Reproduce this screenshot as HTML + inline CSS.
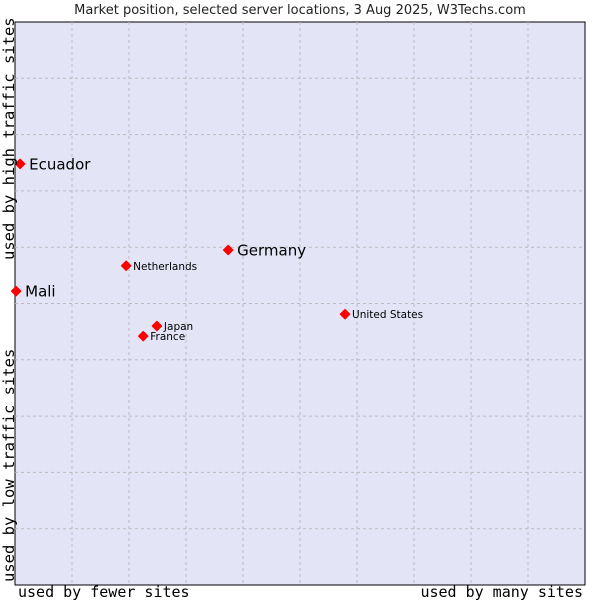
<!DOCTYPE html>
<html><head><meta charset="utf-8"><style>
body{margin:0;background:#fff;width:600px;height:600px;overflow:hidden}
svg{display:block}
</style></head><body>
<svg id="chart" width="600" height="600">
<text x="300" y="14" text-anchor="middle" font-family="DejaVu Sans, sans-serif" font-size="13" fill="#222">Market position, selected server locations, 3 Aug 2025, W3Techs.com</text>
<rect x="15" y="22" width="570" height="563" fill="#e3e5f7" stroke="#000" stroke-width="1"/>
<g id="grid"></g>
<g id="marks"></g>
<text x="18" y="597" font-family="DejaVu Sans Mono, monospace" font-size="15" fill="#000">used by fewer sites</text>
<text x="583" y="597" text-anchor="end" font-family="DejaVu Sans Mono, monospace" font-size="15" fill="#000">used by many sites</text>
<text transform="translate(14,260) rotate(-90)" font-family="DejaVu Sans Mono, monospace" font-size="15.5" fill="#000">used by high traffic sites</text>
<text transform="translate(14,582) rotate(-90)" font-family="DejaVu Sans Mono, monospace" font-size="15.5" fill="#000">used by low traffic sites</text>
</svg>
<script>
const names = ["Ecuador","Germany","Netherlands","Mali","United States","Japan","France"];
const xVals = [0.9,37.4,19.5,0.2,57.9,24.9,22.5];
const yVals = [74.8,59.5,56.7,52.2,48.1,46.0,44.2];
const big = [true,true,false,true,false,false,false];
const X0=15,X1=585,Y0=585,Y1=22;
const sx=v=>X0+(X1-X0)*v/100, sy=v=>Y0-(Y0-Y1)*v/100;
const NS="http://www.w3.org/2000/svg";
const grid=document.getElementById('grid');
for(let i=1;i<10;i++){
  const v=document.createElementNS(NS,'line');
  v.setAttribute('x1',sx(i*10));v.setAttribute('x2',sx(i*10));v.setAttribute('y1',Y1);v.setAttribute('y2',Y0);
  v.setAttribute('stroke','#bbb');v.setAttribute('stroke-dasharray','3,3');
  
  
  grid.appendChild(v);
  const h=document.createElementNS(NS,'line');
  h.setAttribute('y1',sy(i*10));h.setAttribute('y2',sy(i*10));h.setAttribute('x1',X0);h.setAttribute('x2',X1);
  h.setAttribute('stroke','#bbb');h.setAttribute('stroke-dasharray','3,3');
  
  
  grid.appendChild(h);
}
const marks=document.getElementById('marks');
names.forEach((n,i)=>{
  const x=sx(xVals[i]),y=sy(yVals[i]);
  const p=document.createElementNS(NS,'polygon');
  p.setAttribute('points',`${x},${y-4.5} ${x+4.5},${y} ${x},${y+4.5} ${x-4.5},${y}`);
  p.setAttribute('fill','#ff0000');
  p.setAttribute('stroke','#ff0000');
  p.setAttribute('stroke-width','1.5');
  p.setAttribute('stroke-linejoin','round');
  
  
  marks.appendChild(p);
  const t=document.createElementNS(NS,'text');
  t.setAttribute('x',x+(big[i]?9:7));t.setAttribute('y',y+(big[i]?5.5:4));
  t.setAttribute('font-family','DejaVu Sans, sans-serif');
  t.setAttribute('font-size',big[i]?15:10.5);
  t.setAttribute('fill','#000');
  t.textContent=n;
  
  
  marks.appendChild(t);
});
</script>
</body></html>
